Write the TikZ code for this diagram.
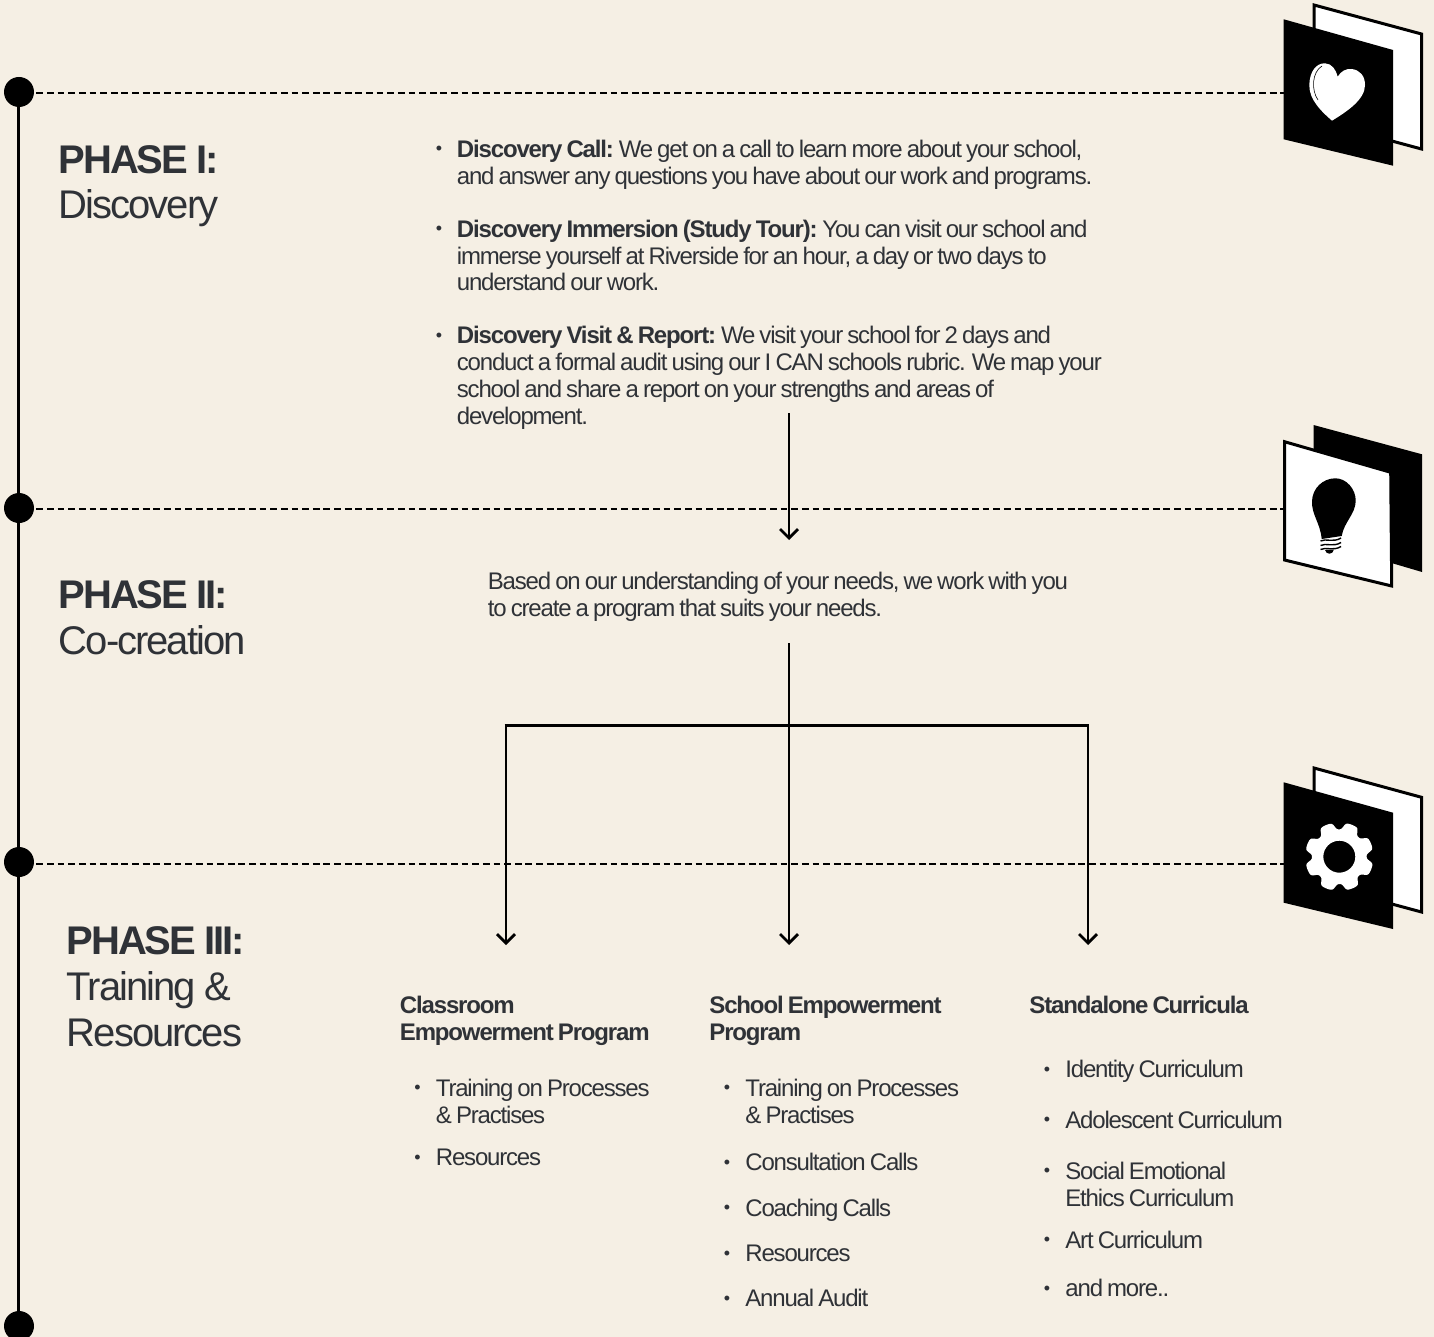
\documentclass[tikz,border=0pt]{standalone}
\usepackage{fontspec}
\setmainfont{Liberation Sans}[LetterSpace=-4.95,WordSpace=0.75,BoldFeatures={LetterSpace=-4.8}]
\newfontfamily\phasefont{Liberation Sans}[LetterSpace=-5,BoldFeatures={LetterSpace=-5.6}]
\usetikzlibrary{arrows.meta}
\definecolor{paper}{HTML}{F5EFE4}
\definecolor{ink}{HTML}{2F3237}
\begin{document}
\begin{tikzpicture}
  [x=.5pt,y=-.5pt,
   every node/.style={inner sep=0pt,text=ink},
   body/.style={anchor=base west,align=left,font=\fontsize{12}{13.35}\selectfont},
   phase/.style={anchor=base west,align=left,font=\phasefont\fontsize{20}{22.9}\selectfont},
   dotnode/.style={circle,fill=black,minimum size=15pt},
   bulletnode/.style={font=\fontsize{9}{9}\selectfont},
   guide/.style={line width=1.35pt,dash pattern=on 3.4pt off 1.916pt},
   flow/.style={line width=1.4pt,-{Straight Barb[length=4.5pt,width=9pt,line width=1.4pt]}},
   edge line/.style={draw=black,line width=1.5pt,line join=miter}]
  \fill[paper] (0,0) rectangle (1434,1337);
  \useasboundingbox (0,0) rectangle (1434,1337);

  % timeline
  \node[dotnode] (d1) at (19,92) {};
  \node[dotnode] (d2) at (19,508) {};
  \node[dotnode] (d3) at (19,862) {};
  \node[dotnode] (d4) at (19,1326) {};
  \coordinate (i1) at (1295,93);
  \coordinate (i2) at (1295,509);
  \coordinate (i3) at (1295,864);
  \draw[line width=1.5pt] (18,92) -- (18,1326);
  \foreach \from/\to in {d1/i1,d2/i2,d3/i3}
    \draw[guide] (\from.east |- \to) ++(2,0) -- (\to);

  % icons
  \filldraw[fill=white,edge line] (1314,5) -- (1421.5,34) -- (1421.5,149) -- (1314,120) -- cycle;
  \fill[black] (1283.7,19.3) -- (1393,50) -- (1393,165.7) -- (1283.7,139.3) -- cycle;
  \fill[white] (1332,120.7) .. controls (1322,112) and (1309,100) .. (1309.3,85)
    .. controls (1309.5,72) and (1316,63) .. (1325,63.3)
    .. controls (1332,63.5) and (1336,70) .. (1337.7,76.7)
    .. controls (1341,71) and (1346,68.5) .. (1351.7,69)
    .. controls (1360,70) and (1365,76) .. (1365,85)
    .. controls (1365,100) and (1346,112) .. (1332,120.7) -- cycle;
  \draw[black,line width=.3pt] (1322,66) .. controls (1312,72) and (1311,90) .. (1318,100);

  \fill[black] (1313.5,425) -- (1422,454.3) -- (1422,572) -- (1313.5,540) -- cycle;
  \filldraw[fill=white,edge line] (1284.5,441.7) -- (1390.7,472.3) -- (1391.7,586) -- (1284.5,560) -- cycle;
  \fill[black] (1335,478.3) .. controls (1346,478) and (1356,489) .. (1355.7,501)
    .. controls (1355.5,514) and (1344,522) .. (1341.7,536)
    -- (1321.7,539) .. controls (1320,522) and (1311.5,515) .. (1312,501)
    .. controls (1312.5,488) and (1323,478.5) .. (1335,478.3) -- cycle;
  \foreach \yy in {541,545.5,549.5}
    \draw[black,line width=.7pt] (1320.5,\yy) .. controls (1326,\yy-3) and (1333,\yy+2) .. (1341,\yy-3);
  \fill[black] (1325,550) .. controls (1326,555) and (1333,555) .. (1334,549.5) -- cycle;

  \filldraw[fill=white,edge line] (1314,768) -- (1421.5,797.3) -- (1421.5,912) -- (1314,883) -- cycle;
  \fill[black] (1283.7,782.3) -- (1393,812.7) -- (1393,929) -- (1283.7,902.7) -- cycle;
  \fill[white,even odd rule] plot[domain=0:360,samples=289,variable=\t]
      ({1339.3+(30.5+3.8*tanh(2*cos(8*(\t-22))+.8))*cos(\t)},{856.7+(30.5+3.8*tanh(2*cos(8*(\t-22))+.8))*sin(\t)}) -- cycle
    (1339.3,856.7) circle (16);

  % phase labels
  \node[phase] (p1) at (58.5,219) {\textbf{PHASE I:}\\Discovery};
  \node[phase] (p2) at (58.5,654) {\textbf{PHASE II:}\\Co-creation};
  \node[phase] (p3) at (66.5,1046) {\textbf{PHASE III:}\\Training \&\\Resources};

  % phase texts
  \node[body] (t1) at (456.5,184.5) {\textbf{Discovery Call:} We get on a call to learn more about your school,\\and answer any questions you have about our work and programs.};
  \node[body] (t2) at (456.5,291) {\textbf{Discovery Immersion (Study Tour):} You can visit our school and\\immerse yourself at Riverside for an hour, a day or two days to\\understand our work.};
  \node[body] (t3) at (456.5,424) {\textbf{Discovery Visit \& Report:} We visit your school for 2 days and\\conduct a formal audit using our I CAN schools rubric. We map your\\school and share a report on your strengths and areas of\\development.};
  \node[body] (t4) at (487.5,616) {Based on our understanding of your needs, we work with you\\to create a program that suits your needs.};

  % columns
  \node[body] (c1) at (399.5,1040) {\textbf{Classroom}\\\textbf{Empowerment Program}};
  \node[body] (c2) at (709,1040) {\textbf{School Empowerment}\\\textbf{Program}};
  \node[body] (c3) at (1029,1013) {\textbf{Standalone Curricula}};

  \node[body] (l1) at (435.5,1123) {Training on Processes\\\& Practises};
  \node[body] (l2) at (435.5,1165) {Resources};
  \node[body] (l3) at (745,1123) {Training on Processes\\\& Practises};
  \node[body] (l4) at (745,1170) {Consultation Calls};
  \node[body] (l5) at (745,1216) {Coaching Calls};
  \node[body] (l6) at (745,1261) {Resources};
  \node[body] (l7) at (745,1306) {Annual Audit};
  \node[body] (l8) at (1065,1077) {Identity Curriculum};
  \node[body] (l9) at (1065,1128) {Adolescent Curriculum};
  \node[body] (l10) at (1065,1206) {Social Emotional\\Ethics Curriculum};
  \node[body] (l11) at (1065,1248) {Art Curriculum};
  \node[body] (l12) at (1065,1296) {and more..};

  \foreach \x/\y [count=\n] in {439/150,439/230,439/337,417.5/1089,417.5/1159,727/1089,727/1164,727/1209,727/1255,727/1300,1047/1071,1047/1121,1047/1172,1047/1241,1047/1290}
    \node[bulletnode] (b\n) at (\x,\y) {•};

  % arrows
  \coordinate (a1) at (789,413);
  \coordinate (a2) at (789,540);
  \coordinate (a3) at (789,643);
  \coordinate (j) at (789,725);
  \coordinate (jl) at (506,725);
  \coordinate (jr) at (1088,725);
  \coordinate (e1) at (506,945);
  \coordinate (e2) at (789,945);
  \coordinate (e3) at (1088,945);
  \draw[flow] (a1) -- (a2);
  \draw[flow] (a3) -- (e2);
  \draw[line width=1.5pt] (jl) ++(-1.4,0) -- (jr) -- ++(1.4,0);
  \foreach \from/\to in {jl/e1,jr/e3}
    \draw[flow] (\from) -- (\to);
\end{tikzpicture}
\end{document}
